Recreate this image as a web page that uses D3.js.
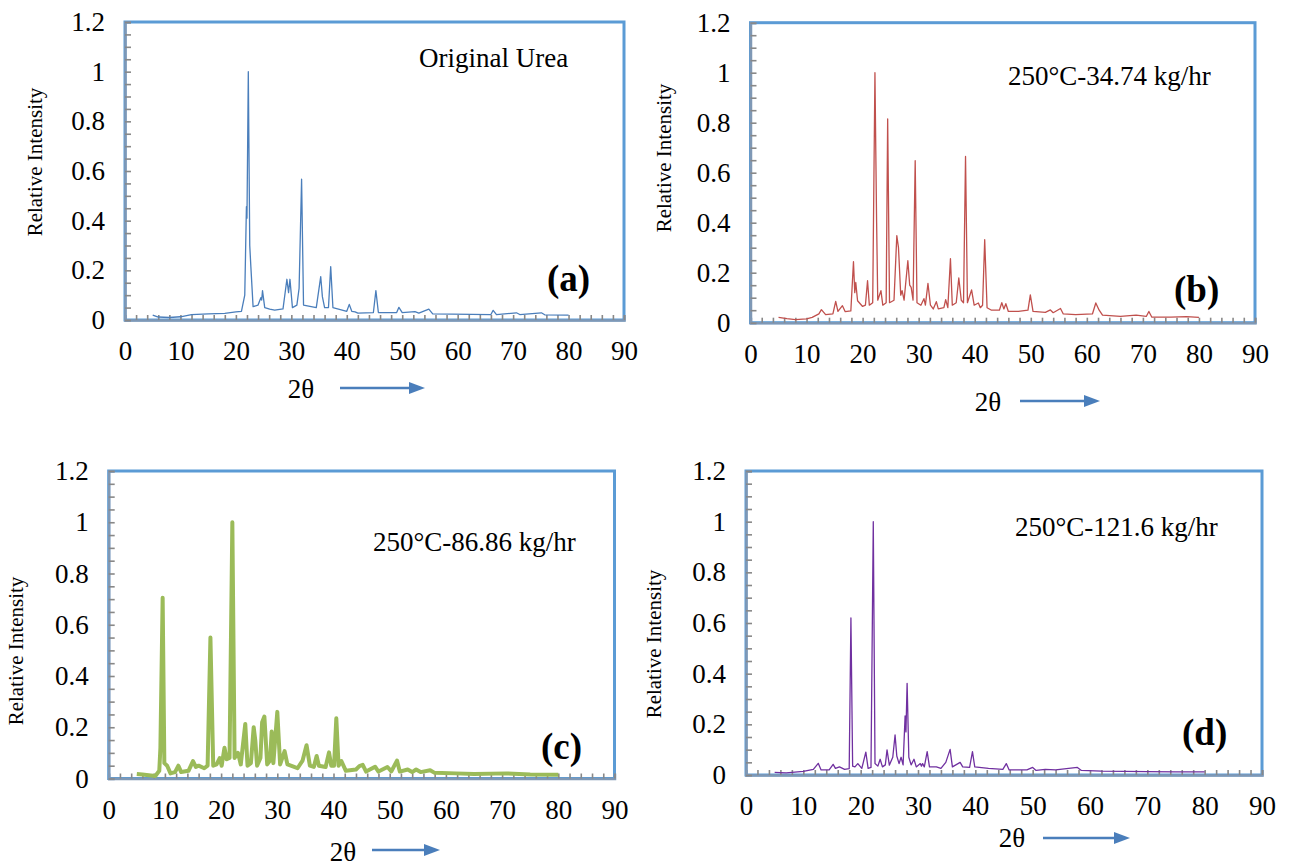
<!DOCTYPE html>
<html>
<head>
<meta charset="utf-8">
<script src="https://cdn.jsdelivr.net/npm/d3@7"></script>
<style>
  body { margin: 0; background: #fff; }
  svg text { font-family: "Liberation Serif", "Times New Roman", Times, Tinos, "DejaVu Serif", serif; }
</style>
</head>
<body>
<script>
const w = 1292
const h = 868

// tick labels shared by all four panels
const xTickValues = [0, 10, 20, 30, 40, 50, 60, 70, 80, 90]
const yTickValues = [0, 0.2, 0.4, 0.6, 0.8, 1, 1.2]

// XRD patterns: [2theta, relative intensity]
const ureaOriginal = [[5,0.02],[6,0.012],[8,0.01],[10,0.013],[12,0.022],[15,0.025],[18,0.027],[20,0.033],[21,0.035],[21.6,0.1],[21.9,0.456],[22.0,0.41],[22.24,1.0],[22.5,0.3],[22.7,0.215],[23.1,0.054],[24,0.06],[24.5,0.09],[24.65,0.08],[24.8,0.118],[25.2,0.05],[26.1,0.044],[27,0.04],[28.5,0.045],[29.2,0.164],[29.5,0.11],[29.75,0.164],[30.2,0.05],[31.0,0.06],[31.4,0.128],[31.85,0.567],[32.2,0.06],[34.5,0.05],[35.3,0.175],[35.6,0.094],[36,0.05],[36.7,0.05],[37.1,0.215],[37.5,0.05],[40,0.035],[40.45,0.063],[40.9,0.035],[41.5,0.033],[42,0.028],[44.8,0.03],[45.25,0.118],[45.7,0.03],[49,0.03],[49.4,0.051],[50,0.03],[52.3,0.034],[53,0.028],[54.8,0.044],[55.5,0.025],[66,0.022],[66.4,0.039],[67,0.022],[70.6,0.029],[71.2,0.022],[75.1,0.029],[75.7,0.021],[80,0.02]]

const urea34 = [[5,0.021],[6.5,0.016],[8,0.012],[10,0.015],[11,0.021],[12.2,0.035],[12.65,0.052],[13.4,0.032],[14.7,0.035],[15.2,0.085],[15.6,0.045],[16.4,0.068],[16.9,0.044],[17.9,0.047],[18.37,0.244],[18.6,0.12],[18.78,0.161],[19.1,0.088],[20,0.065],[20.5,0.07],[20.88,0.168],[21.2,0.07],[21.8,0.08],[22.2,1.0],[22.35,0.69],[22.5,0.4],[22.7,0.09],[23.27,0.128],[23.6,0.07],[24.2,0.08],[24.47,0.815],[24.8,0.08],[25.6,0.09],[26.1,0.348],[26.4,0.3],[26.8,0.11],[27.04,0.128],[27.4,0.09],[28.07,0.248],[28.4,0.15],[28.66,0.141],[29.0,0.09],[29.38,0.648],[29.7,0.08],[30.4,0.07],[30.94,0.096],[31.2,0.07],[31.66,0.157],[32.1,0.07],[32.6,0.055],[33.15,0.084],[33.5,0.055],[34.5,0.06],[34.82,0.092],[35.2,0.06],[35.67,0.256],[36,0.07],[36.7,0.08],[37.16,0.179],[37.6,0.09],[38.0,0.08],[38.36,0.665],[38.7,0.08],[39.44,0.131],[39.9,0.07],[40.65,0.079],[41.0,0.06],[41.4,0.07],[41.78,0.332],[42.2,0.06],[43,0.05],[44.4,0.05],[44.83,0.08],[45.2,0.055],[45.55,0.076],[46,0.045],[47.8,0.045],[49.5,0.05],[49.92,0.111],[50.4,0.045],[52.6,0.041],[53.5,0.051],[54.0,0.04],[55.3,0.057],[55.8,0.035],[58,0.032],[61,0.035],[61.6,0.079],[62.2,0.05],[62.8,0.03],[66,0.025],[68.8,0.03],[70.6,0.025],[71.07,0.045],[71.6,0.022],[75,0.022],[77.8,0.024],[80,0.021]]

const urea86 = [[5,0.018],[6,0.016],[7.5,0.012],[8.3,0.01],[9.0,0.03],[9.2,0.12],[9.6,0.705],[9.9,0.06],[10.4,0.05],[11,0.02],[11.8,0.025],[12.4,0.05],[12.9,0.025],[14.2,0.03],[15.0,0.068],[15.5,0.045],[16.0,0.05],[17,0.04],[17.6,0.05],[18.1,0.55],[18.6,0.05],[19.2,0.055],[19.75,0.08],[20.1,0.05],[20.6,0.12],[21.0,0.075],[21.5,0.08],[22.0,1.0],[22.4,0.08],[23.0,0.1],[23.5,0.055],[24.3,0.213],[24.7,0.05],[25.3,0.06],[25.8,0.2],[26.1,0.145],[26.4,0.05],[27.0,0.08],[27.3,0.22],[27.7,0.242],[28.2,0.055],[28.7,0.07],[29.0,0.183],[29.3,0.06],[30.0,0.26],[30.5,0.055],[31.3,0.107],[31.8,0.055],[33,0.045],[33.6,0.04],[34.5,0.07],[35.2,0.13],[35.8,0.05],[36.5,0.045],[37.0,0.088],[37.4,0.05],[38.6,0.045],[39.2,0.102],[39.6,0.05],[40.1,0.05],[40.5,0.235],[40.9,0.05],[41.4,0.068],[42.2,0.03],[44,0.035],[44.6,0.048],[45.2,0.053],[45.8,0.027],[47.4,0.046],[48,0.027],[49.6,0.045],[50.3,0.028],[51.3,0.07],[51.8,0.027],[53.2,0.035],[54,0.025],[54.7,0.035],[55.5,0.025],[57.2,0.032],[58,0.022],[61.8,0.02],[65,0.018],[70.8,0.02],[75,0.016],[80,0.015]]

const urea121 = [[5,0.01],[7,0.008],[10,0.014],[11.75,0.022],[12.6,0.046],[13.1,0.02],[14.5,0.02],[15.2,0.042],[15.6,0.026],[16.3,0.032],[17.2,0.022],[18.0,0.025],[18.3,0.62],[18.6,0.035],[19.0,0.032],[19.5,0.045],[20.2,0.026],[20.9,0.09],[21.3,0.026],[21.8,0.03],[22.2,1.0],[22.5,0.045],[23.0,0.035],[23.4,0.062],[23.8,0.032],[24.3,0.04],[24.6,0.099],[25.0,0.039],[25.6,0.07],[26.0,0.158],[26.3,0.075],[26.7,0.045],[27.05,0.07],[27.4,0.04],[27.75,0.233],[27.9,0.17],[28.1,0.362],[28.4,0.07],[28.8,0.04],[29.3,0.062],[29.7,0.032],[30.4,0.045],[30.6,0.035],[30.8,0.045],[31.1,0.032],[31.6,0.092],[32.0,0.032],[33.2,0.032],[34.0,0.026],[34.85,0.05],[35.6,0.101],[36.0,0.032],[37.35,0.05],[37.8,0.032],[39.0,0.03],[39.5,0.092],[39.9,0.032],[42.3,0.026],[44.8,0.022],[45.4,0.045],[45.9,0.02],[49,0.02],[50,0.03],[50.6,0.018],[52.2,0.022],[54,0.02],[57.8,0.03],[58.5,0.018],[62,0.015],[70,0.013],[75,0.012],[80,0.012]]

const noteLabels = ["Original Urea", "250°C-34.74 kg/hr", "250°C-86.86 kg/hr", "250°C-121.6 kg/hr"]
const panelTags = ["(a)", "(b)", "(c)", "(d)"]

// layout of the four frames on the page
const panels = [
  { data: ureaOriginal, color: "#4a7ebb", lw: 1.3, left: 125, right: 624, top: 22, bottom: 320,
    noteX: 419, noteY: 67, tagX: 547, tagY: 291, titleX: 37, titleY: 162, thetaX: 301, thetaY: 398, arrow: [340, 425, 388] },
  { data: urea34, color: "#c0504d", lw: 1.3, left: 750.5, right: 1255, top: 22.7, bottom: 322.7,
    noteX: 1008, noteY: 85, tagX: 1174, tagY: 302, titleX: 666, titleY: 158, thetaX: 988, thetaY: 411, arrow: [1020, 1100, 401] },
  { data: urea86, color: "#9bbb59", lw: 4, left: 108.7, right: 614.5, top: 471, bottom: 778.5,
    noteX: 373, noteY: 551, tagX: 541, tagY: 759, titleX: 18, titleY: 651, thetaX: 343, thetaY: 861, arrow: [372, 440, 850] },
  { data: urea121, color: "#7030a0", lw: 1.3, left: 746, right: 1262, top: 471, bottom: 775,
    noteX: 1015, noteY: 536, tagX: 1182, tagY: 745, titleX: 656, titleY: 644, thetaX: 1012, thetaY: 847, arrow: [1043, 1130, 838] }
]

const serif = "'Liberation Serif', 'Times New Roman', Times, serif"

const svg = d3.select("body").append("svg")
  .attr("width", w)
  .attr("height", h)
  .attr("font-family", serif)

panels.forEach((p, i) => {
  const x = d3.scaleLinear().domain([0, 90]).range([p.left, p.right])
  const y = d3.scaleLinear().domain([0, 1.2]).range([p.bottom, p.top])
  const g = svg.append("g")

  // frame
  g.append("rect")
    .attr("x", p.left).attr("y", p.top)
    .attr("width", p.right - p.left).attr("height", p.bottom - p.top)
    .attr("fill", "none").attr("stroke", "#5b9bd5").attr("stroke-width", 3)

  // minor ticks pointing inward
  const minorX = g.append("g").attr("transform", `translate(0,${p.bottom})`)
    .call(d3.axisBottom(x).tickValues(d3.range(0, 91, 2)).tickSize(-5).tickFormat(""))
  const minorY = g.append("g").attr("transform", `translate(${p.left},0)`)
    .call(d3.axisLeft(y).tickValues(d3.range(0, 25).map(k => k * 0.05)).tickSize(-6).tickFormat(""))
  ;[minorX, minorY].forEach(a => {
    a.select(".domain").attr("stroke", "#7f98b5").attr("stroke-width", 2.5)
    a.selectAll(".tick line").attr("stroke", "#888").attr("stroke-width", 1.6)
  })

  // labelled axes
  const labX = g.append("g").attr("transform", `translate(0,${p.bottom})`)
    .call(d3.axisBottom(x).tickValues(xTickValues).tickSize(0).tickPadding(21))
  const labY = g.append("g").attr("transform", `translate(${p.left},0)`)
    .call(d3.axisLeft(y).tickValues(yTickValues).tickSize(0).tickPadding(20)
      .tickFormat(d => String(+d.toFixed(1))))
  ;[labX, labY].forEach(a => {
    a.attr("font-family", serif).attr("font-size", 27)
    a.select(".domain").remove()
    a.selectAll("text").attr("fill", "#000")
  })

  // pattern
  const line = d3.line().x(d => x(d[0])).y(d => y(d[1]))
  g.append("path")
    .datum(p.data)
    .attr("d", line)
    .attr("fill", "none")
    .attr("stroke", p.color)
    .attr("stroke-width", p.lw)
    .attr("stroke-linejoin", "round")

  // texts
  g.append("text").attr("x", p.noteX).attr("y", p.noteY)
    .attr("font-size", 27).text(noteLabels[i])
  g.append("text").attr("x", p.tagX).attr("y", p.tagY)
    .attr("font-size", 37).attr("font-weight", "bold").text(panelTags[i])
  g.append("text")
    .attr("transform", `translate(${p.titleX},${p.titleY}) rotate(-90)`)
    .attr("text-anchor", "middle").attr("dominant-baseline", "middle")
    .attr("font-size", 21).text("Relative Intensity")
  g.append("text").attr("x", p.thetaX).attr("y", p.thetaY)
    .attr("text-anchor", "middle").attr("font-size", 27).text("2θ")

  // arrow
  const [ax0, ax1, ay] = p.arrow
  g.append("line").attr("x1", ax0).attr("x2", ax1 - 14).attr("y1", ay).attr("y2", ay)
    .attr("stroke", "#4a7ebb").attr("stroke-width", 2.5)
  g.append("path")
    .attr("d", `M${ax1 - 16},${ay - 6}L${ax1},${ay}L${ax1 - 16},${ay + 6}Z`)
    .attr("fill", "#4a7ebb")
})
</script>
</body>
</html>
